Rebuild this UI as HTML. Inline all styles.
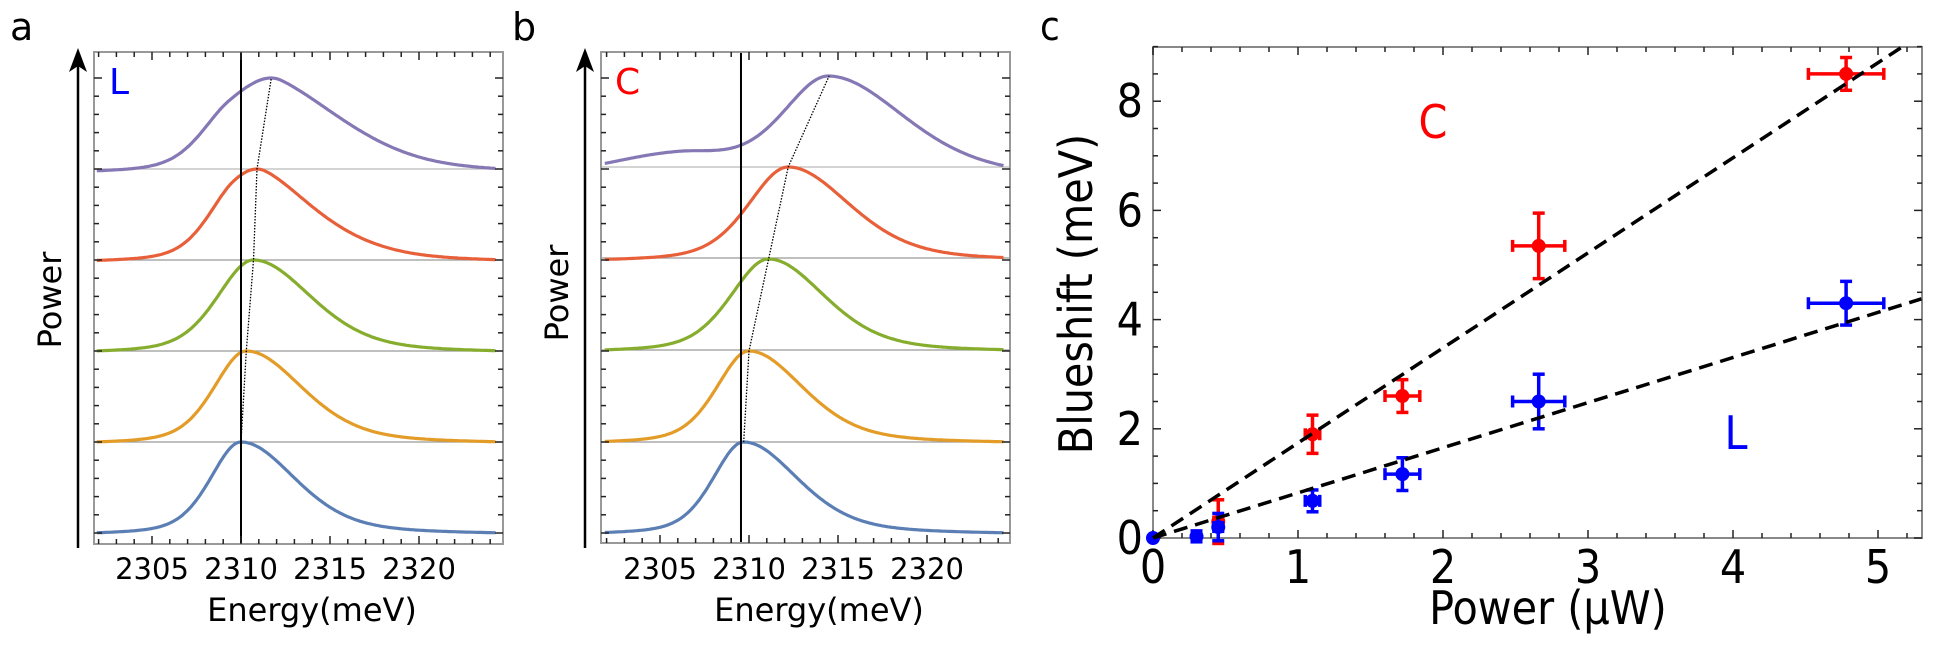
<!DOCTYPE html>
<html><head><meta charset="utf-8">
<style>
html,body{margin:0;padding:0;background:#fff;}
svg{display:block;}
text{font-family:"DejaVu Sans","Liberation Sans",sans-serif;}
.c text{font-family:"DejaVu Sans Condensed","DejaVu Sans","Liberation Sans Narrow",sans-serif;}
</style></head>
<body>
<svg id="s" width="1956" height="646" viewBox="0 0 1956 646" xmlns="http://www.w3.org/2000/svg">
<text x="10" y="40" font-size="38">a</text>
<text x="512" y="40" font-size="38">b</text>
<g class="c"><text x="1040" y="40" font-size="40">c</text></g>
<g id="pa"></g><g id="pb"></g><g id="pc" class="c"></g>
</svg>
<script>
var NS="http://www.w3.org/2000/svg";
function el(p,t,a,txt){var e=document.createElementNS(NS,t);for(var k in a)e.setAttribute(k,a[k]);if(txt!==undefined)e.textContent=txt;p.appendChild(e);return e;}
function pk(x,p,wl,wr){var d=x-p;var w=d<0?wl:wr;var g=Math.exp(-d*d/(2*w*w));var l=1/(1+(d/(w*1.3))*(d/(w*1.3)));return 0.6*g+0.4*l;}
function panel(g,o){
  var L=o.L,R=o.R,T=52,B=o.B;
  var X=function(e){return o.x2305+(e-2305)*17.8;};
  o.base.forEach(function(b,i){if(i<4)el(g,'line',{x1:L,x2:R,y1:b,y2:b,stroke:i==0?'#bbb':'#999','stroke-width':1.2});});
  var cols=['#5b7fb5','#e39c28','#86ad2e','#e8603a','#8678b4'];
  var peaks=[];
  o.curves.forEach(function(c,i){
    var b=o.base[4-i]; var pts=[]; var maxv=0,minv=1e9,vals=[];
    for(var e=2301.9;e<=2324.3;e+=0.1){var v=0;c.forEach(function(q){v+=q[0]*pk(e,q[1],q[2],q[3]);});vals.push([e,v]);if(v>maxv)maxv=v;}
    var vend=vals[vals.length-1][1]*0.9;
    var pe=0;vals.forEach(function(a){if(a[1]==maxv)pe=a[0];pts.push(X(a[0]).toFixed(1)+','+(b-(a[1]-vend)/(maxv-vend)*91).toFixed(1));});
    peaks.push([X(pe),b-91]);
    el(g,'polyline',{points:pts.join(' '),fill:'none',stroke:cols[i],'stroke-width':3.2,'stroke-linejoin':'round'});
  });
  el(g,'line',{x1:X(o.vline),x2:X(o.vline),y1:T,y2:B,stroke:'#000','stroke-width':2});
  el(g,'polyline',{points:peaks.map(function(p){return p[0].toFixed(1)+','+p[1].toFixed(1);}).join(' '),fill:'none',stroke:'#000','stroke-width':1.3,'stroke-dasharray':'1.5,1.5'});
  el(g,'rect',{x:L,y:T,width:R-L,height:B-T,fill:'none',stroke:'#999','stroke-width':2});
  for(var e=2302;e<=2324;e++){var x=X(e);var len=(e%5==0)?8:5;
    el(g,'line',{x1:x,x2:x,y1:B,y2:B-len,stroke:'#222','stroke-width':1.5});
    el(g,'line',{x1:x,x2:x,y1:T,y2:T+len,stroke:'#222','stroke-width':1.5});
    if(e%5==0)el(g,'text',{x:x,y:579,'font-size':29,'text-anchor':'middle'},String(e));}
  var b0=o.base[4];
  for(var k=0;k<=25;k++){var y=b0-k*18.2;if(y<T+2)break;var len=(k%5==0)?8:5;
    el(g,'line',{x1:L,x2:L+len,y1:y,y2:y,stroke:'#222','stroke-width':1.5});
    el(g,'line',{x1:R,x2:R-len,y1:y,y2:y,stroke:'#222','stroke-width':1.5});}
  el(g,'line',{x1:o.ax,x2:o.ax,y1:548,y2:65,stroke:'#000','stroke-width':2.5});
  el(g,'path',{d:'M'+o.ax+',48 L'+(o.ax-9)+',72 L'+o.ax+',66 L'+(o.ax+9)+',72 Z',fill:'#000'});
  el(g,'text',{x:0,y:0,'font-size':32,'text-anchor':'middle',transform:'translate('+(o.px+11)+','+o.py+') rotate(-90)'},'Power');
  el(g,'text',{x:o.ex,y:621,'font-size':32,'text-anchor':'middle'},'Energy(meV)');
  el(g,'text',{x:o.lx,y:94,'font-size':36,fill:o.lc},o.lab);
}
panel(document.getElementById('pa'),{L:94,R:503,B:544,x2305:152,base:[169,260,351,442,533],vline:2310,ax:78,px:50,py:300,ex:312,lx:109,lc:'#0000ff',lab:'L',
 curves:[[[1,2310,1.7,3.0]],[[1,2310.3,1.8,3.1]],[[1,2310.7,2.0,3.2]],[[0.55,2309.6,1.6,2.5],[0.75,2311.4,2.0,3.6]],[[0.5,2309.3,1.7,2.5],[0.85,2312.3,2.2,4.0]]]});
panel(document.getElementById('pb'),{L:601,R:1010,B:543,x2305:660,base:[167,258,350,442,533],vline:2309.55,ax:585,px:557,py:293,ex:819,lx:615,lc:'#ff0000',lab:'C',
 curves:[[[1,2309.7,1.7,3.0]],[[1,2310.0,1.8,3.0]],[[1,2311.1,2.1,3.1]],[[1,2312.2,2.2,3.4]],[[0.22,2306,4,3],[1,2314.5,2.6,4.2]]]});
(function(){
 var g=document.getElementById('pc');
 var L=1153,R=1922,T=47,B=538;
 var X=function(p){return L+145*p;},Y=function(b){return B-54.6*b;};
 el(g,'rect',{x:L,y:T,width:R-L,height:B-T,fill:'none',stroke:'#888','stroke-width':2});
 for(var i=0;i<=26;i++){var p=i*0.2;var x=X(p);var len=(i%5==0)?8:5;
   el(g,'line',{x1:x,x2:x,y1:B,y2:B-len,stroke:'#222','stroke-width':1.5});
   el(g,'line',{x1:x,x2:x,y1:T,y2:T+len,stroke:'#222','stroke-width':1.5});
   if(i%5==0)el(g,'text',{x:x,y:583,'font-size':46,'text-anchor':'middle'},String(i/5));}
 for(var j=0;j<=18;j++){var b=j*0.5;var y=Y(b);var len=(j%4==0)?8:5;
   el(g,'line',{x1:L,x2:L+len,y1:y,y2:y,stroke:'#222','stroke-width':1.5});
   el(g,'line',{x1:R,x2:R-len,y1:y,y2:y,stroke:'#222','stroke-width':1.5});
   if(j%4==0)el(g,'text',{x:L-10,y:y+16,'font-size':46,'text-anchor':'end'},String(b));}
 function pts(d,c){d.forEach(function(a){var x=X(a[0]),y=Y(a[1]);
   if(a[2]>0){el(g,'line',{x1:X(a[0]-a[2]),x2:X(a[0]+a[2]),y1:y,y2:y,stroke:c,'stroke-width':3.5});
     [X(a[0]-a[2]),X(a[0]+a[2])].forEach(function(xx){el(g,'line',{x1:xx,x2:xx,y1:y-6,y2:y+6,stroke:c,'stroke-width':3.5});});}
   if(a[3]>0){el(g,'line',{x1:x,x2:x,y1:Y(a[1]-a[3]),y2:Y(a[1]+a[3]),stroke:c,'stroke-width':3.5});
     [Y(a[1]-a[3]),Y(a[1]+a[3])].forEach(function(yy){el(g,'line',{x1:x-6,x2:x+6,y1:yy,y2:yy,stroke:c,'stroke-width':3.5});});}
   el(g,'circle',{cx:x,cy:y,r:7,fill:c});});}
 pts([[0.45,0.3,0.03,0.4],[1.1,1.9,0.05,0.35],[1.72,2.6,0.12,0.3],[2.66,5.35,0.18,0.6],[4.78,8.5,0.26,0.3]],'#ff0000');
 pts([[0,0,0,0],[0.3,0.03,0.02,0.1],[0.45,0.2,0.03,0.25],[1.1,0.68,0.05,0.2],[1.72,1.17,0.12,0.3],[2.66,2.5,0.18,0.5],[4.78,4.3,0.26,0.4]],'#0000ff');
 el(g,'line',{x1:X(0),y1:Y(0),x2:X(5.17),y2:Y(9),stroke:'#000','stroke-width':3.5,'stroke-dasharray':'14,8'});
 el(g,'line',{x1:X(0),y1:Y(0),x2:X(5.3),y2:Y(4.38),stroke:'#000','stroke-width':3.5,'stroke-dasharray':'14,8'});
 el(g,'text',{x:1433,y:138,'font-size':46,'text-anchor':'middle',fill:'#ff0000'},'C');
 el(g,'text',{x:1736,y:449,'font-size':46,'text-anchor':'middle',fill:'#0000ff'},'L');
 el(g,'text',{x:1548,y:624,'font-size':46,'text-anchor':'middle'},'Power (\u03bcW)');
 el(g,'text',{x:0,y:0,'font-size':46,'text-anchor':'middle',transform:'translate(1092,294) rotate(-90)'},'Blueshift (meV)');
})();
</script>
</body></html>
